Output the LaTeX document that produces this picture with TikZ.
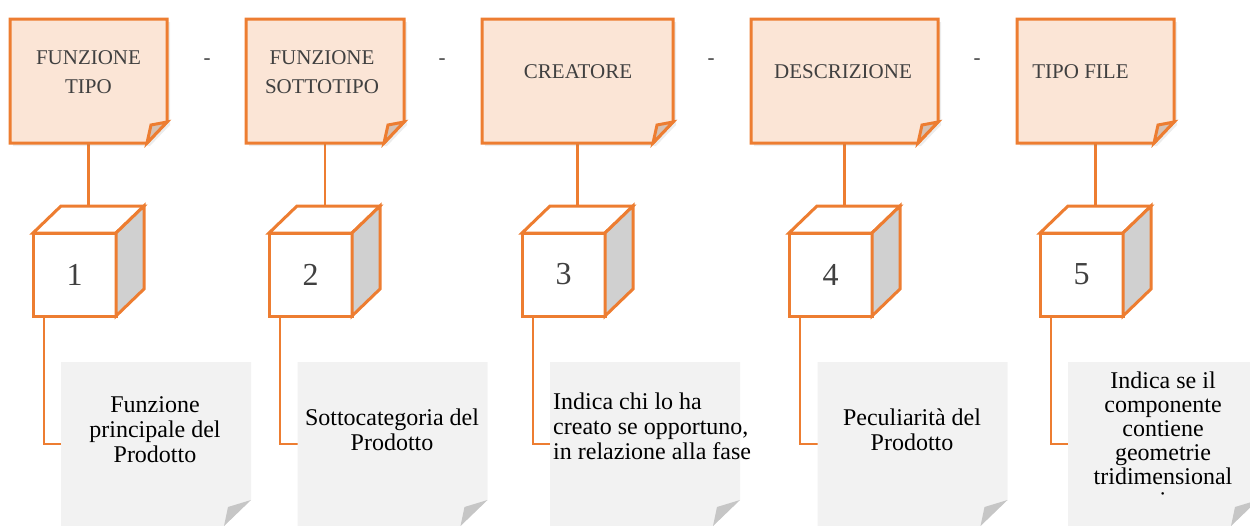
\documentclass[tikz,border=0pt]{standalone}
\usepackage{fontspec}
\setmainfont{Liberation Serif}
\usetikzlibrary{calc,backgrounds,shadows}

\definecolor{orangeline}{HTML}{ED7D31}
\definecolor{headfill}{HTML}{FBE5D6}
\definecolor{headfold}{HTML}{D6C1B3}
\definecolor{cardfill}{HTML}{F2F2F2}
\definecolor{cardfold}{HTML}{C6C6C6}
\definecolor{cubeside}{HTML}{D0D0D0}
\definecolor{darktext}{HTML}{404040}

\tikzset{
  head/.style={inner sep=0pt, outer sep=0pt, minimum height=124},
  headline/.style={draw=orangeline, line width=3, line join=miter},
  headtext/.style={text=darktext, align=center, font=\fontsize{21}{29}\selectfont},
  cube/.style={draw=orangeline, line width=3, fill=white, inner sep=0pt, outer sep=0pt,
    minimum size=83, text=darktext, font=\fontsize{32}{32}\selectfont},
  card/.style={inner sep=0pt, outer sep=0pt, minimum width=190, minimum height=164},
  cardtext/.style={inner sep=0pt, align=center, font=\fontsize{24}{25}\selectfont},
  link/.style={draw=orangeline, line width=2.5},
}

\begin{document}
\begin{tikzpicture}[x=1pt, y=-1pt]
    \useasboundingbox (0,0) rectangle (1250,525);

    % Headers with the folded corner
    \foreach \i/\x/\w in {1/88.5/157, 2/325/158, 3/577.5/191, 4/844.5/187, 5/1095.5/157} {
        \node[head, minimum width=\w] (head\i) at (\x,81) {};
        \draw[headline, fill=headfill, drop shadow={opacity=0.15, shadow xshift=3pt, shadow yshift=-3pt}]
            (head\i.north west) -- (head\i.north east) -- ($(head\i.south east)+(0,-21)$)
            -- ($(head\i.south east)+(-20,0)$) -- (head\i.south west) -- cycle;
        \draw[headline, fill=headfold] ($(head\i.south east)+(0,-21)$)
            -- ($(head\i.south east)+(-20,0)$) -- ($(head\i.south east)+(-16,-18)$) -- cycle;
    }
    \node[headtext] (name1) at (88.5,72) {FUNZIONE\\TIPO};
    \node[headtext] (name2) at (322,72) {FUNZIONE\\SOTTOTIPO};
    \node[headtext] (name3) at (578,72) {CREATORE};
    \node[headtext] (name4) at (843,72) {DESCRIZIONE};
    \node[headtext] (name5) at (1080.5,72) {TIPO FILE};

    % Dashes between the headers
    \node[headtext] (dash1) at (207,62) {-};
    \node[headtext] (dash2) at (442,62) {-};
    \node[headtext] (dash3) at (711,62) {-};
    \node[headtext] (dash4) at (977,62) {-};

    % Numbered cubes
    \foreach \i/\x in {1/74.5, 2/310.5, 3/563.5, 4/830.5, 5/1081.5} {
        \node[cube] (cube\i) at (\x,274.5) {\i};
        \draw[headline, fill=white] (cube\i.north west) -- ++(28,-27) -- ++(83,0) -- (cube\i.north east) -- cycle;
        \draw[headline, fill=cubeside] (cube\i.north east) -- ++(28,-27) -- ++(0,83) -- (cube\i.south east) -- cycle;
    }

    % Grey cards with the descriptions
    \foreach \i/\x in {1/156, 2/392.5, 3/645, 4/912.5, 5/1163} {
        \node[card] (card\i) at (\x,444) {};
        \fill[cardfill] (card\i.north west) -- (card\i.north east) -- ($(card\i.south east)+(0,-26)$)
            -- ($(card\i.south east)+(-27,0)$) -- (card\i.south west) -- cycle;
        \fill[cardfold] ($(card\i.south east)+(0,-26)$) -- ($(card\i.south east)+(-27,0)$)
            -- ($(card\i.south east)+(-23,-19)$) -- cycle;
    }
    \node[cardtext] (desc1) at (155,430) {Funzione\\principale del\\Prodotto};
    \node[cardtext] (desc2) at (392,430) {Sottocategoria del\\Prodotto};
    \node[cardtext, align=left, anchor=west] (desc3) at (553,426) {Indica chi lo ha\\creato se opportuno,\\in relazione alla fase};
    \node[cardtext] (desc4) at (912,430) {Peculiarità del\\Prodotto};
    \begin{scope}
        \clip (1068,362) rectangle (1250,495);
        \node[cardtext, font=\fontsize{24}{24}\selectfont] (desc5) at (1163,440)
            {Indica se il\\componente\\contiene\\geometrie\\tridimensional\\i};
    \end{scope}

    % Connectors
    \begin{scope}[on background layer]
        \foreach \i in {1,...,5} {
            \draw[link] (head\i.south) -- (head\i.south |- cube\i.north);
            \draw[link] ([xshift=11pt]cube\i.south west) |- (card\i.west);
        }
    \end{scope}
\end{tikzpicture}
\end{document}
